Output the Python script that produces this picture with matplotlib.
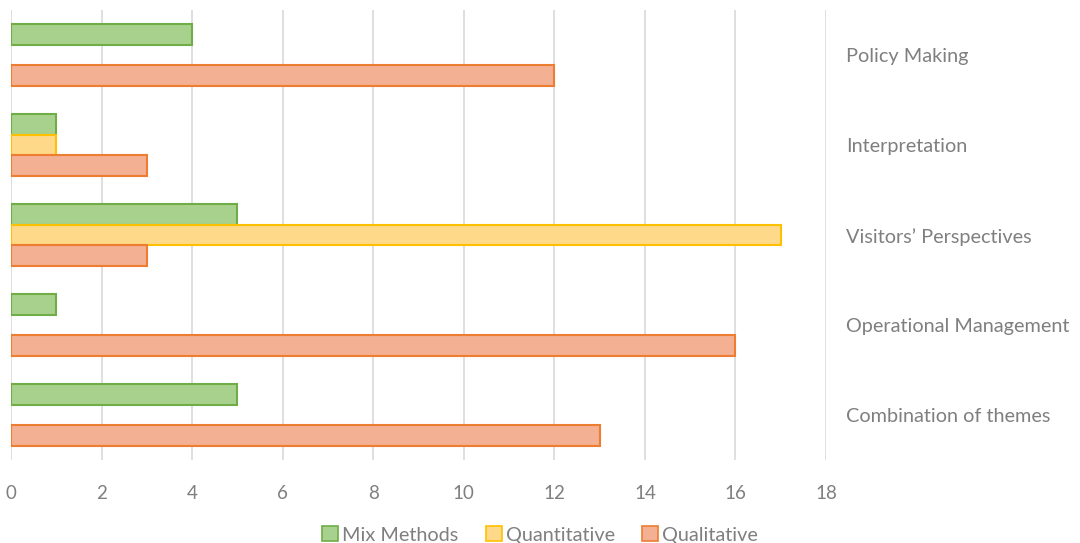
import matplotlib.pyplot as plt
import numpy as np

plt.rcParams['font.family'] = ['Lato', 'DejaVu Sans']

# Data (top to bottom)
categories = ['Policy Making', 'Interpretation', 'Visitors\u2019 Perspectives',
              'Operational Management', 'Combination of themes']
mix_methods = [4, 1, 5, 1, 5]
quantitative = [0, 1, 17, 0, 0]
qualitative = [12, 3, 3, 16, 13]

series = [
    ('Mix Methods', mix_methods, '#a9d18e', '#70ad47'),
    ('Quantitative', quantitative, '#ffd98a', '#ffc000'),
    ('Qualitative', qualitative, '#f4b093', '#ed7d31'),
]

fig = plt.figure(figsize=(10.8, 5.43), dpi=100)
ax = fig.add_axes([0.0102, 0.153, 0.7546, 0.8286])

y = np.arange(len(categories))
h = 0.228
for i, (name, vals, fc, ec) in enumerate(series):
    pos = y + (i - 1) * h
    vals = np.array(vals, dtype=float)
    mask = vals > 0
    ax.barh(pos[mask], vals[mask], height=h, color=fc, edgecolor=ec,
            linewidth=1.5, label=name, zorder=3)

ax.set_ylim(len(categories) - 0.5, -0.5)
ax.set_xlim(0, 18)
ax.set_xticks(range(0, 19, 2))
ax.grid(axis='x', color='#d9d9d9', linewidth=1.2, zorder=0)
for s in ax.spines.values():
    s.set_visible(False)
ax.tick_params(axis='x', length=0, pad=18, labelsize=13.5, labelcolor='#7f7f7f')
ax.set_yticks([])

for yi, cat in zip(y, categories):
    ax.text(18.45, yi + 0.02, cat, ha='left', va='center', fontsize=14.3, color='#7f7f7f')

handles = [plt.Rectangle((0, 0), 1, 1, facecolor=fc, edgecolor=ec, linewidth=1.2)
           for _, _, fc, ec in series]
fig.legend(handles, [s[0] for s in series], loc='center', bbox_to_anchor=(0.5, 0.015),
           ncol=3, frameon=False, fontsize=14.3, labelcolor='#7f7f7f',
           handlelength=0.8, handleheight=0.8, handletextpad=0.2, columnspacing=1.4)

fig.savefig('out.png', dpi=100)
